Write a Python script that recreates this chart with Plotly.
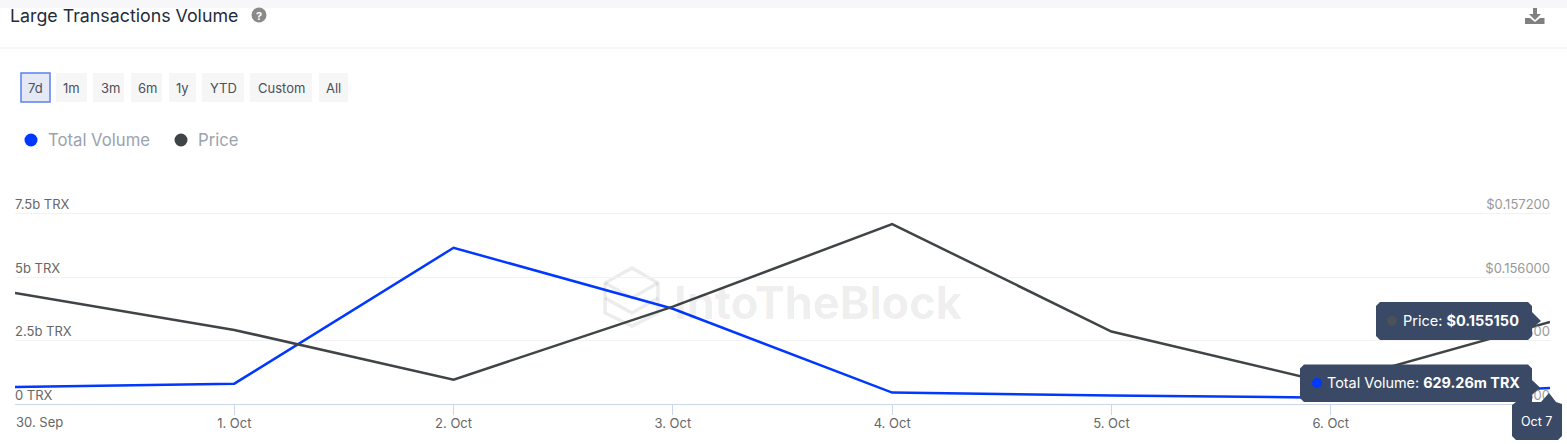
import plotly.graph_objects as go

W, H = 1567, 444
L, R, T, B = 15, 1550, 190, 404

categories = ["30. Sep", "1. Oct", "2. Oct", "3. Oct", "4. Oct", "5. Oct", "6. Oct", "7. Oct"]
x_tick_text = ["", "1. Oct", "2. Oct", "3. Oct", "4. Oct", "5. Oct", "6. Oct", ""]
volume_b = [0.67, 0.80, 6.15, 3.75, 0.45, 0.33, 0.25, 0.62926]
price = [0.15570, 0.15500, 0.15406, 0.15544, 0.15700, 0.15497, 0.15399, 0.15515]
vol_ticks = [0, 2.5, 5, 7.5]
vol_tick_text = ["0 TRX", "2.5b TRX", "5b TRX", "7.5b TRX"]
price_ticks = [0.1536, 0.1548, 0.1560, 0.1572]
price_tick_text = ["$0.153600", "$0.154800", "$0.156000", "$0.157200"]
buttons = [("7d", 21, 50, 0), ("1m", 56, 87, 0), ("3m", 93, 124, 1.5), ("6m", 131, 162, 1),
           ("1y", 169, 196, 0), ("YTD", 202, 244, 0), ("Custom", 250, 312, 0), ("All", 319, 348, 0)]

FONT = "Inter, 'Open Sans', sans-serif"
Y_TOP = 7.5 * (B - T) / 190.5
Y2_TOP = 0.1536 + 0.0036 * Y_TOP / 7.5


def px(x):
    return (x - L) / (R - L)


def py(y):
    return (B - y) / (B - T)


shapes, annotations = [], []


def rect(x0, y0, x1, y1, fill, line=None, lw=0, layer="below"):
    shapes.append(dict(type="rect", xref="paper", yref="paper", x0=px(x0), x1=px(x1), y0=py(y0), y1=py(y1),
                       fillcolor=fill, line=dict(color=line or fill, width=lw), layer=layer))


def poly(points, fill, line="rgba(0,0,0,0)", lw=0, layer="above", close=True):
    d = "M " + " L ".join(f"{px(a):.6f},{py(b):.6f}" for a, b in points) + (" Z" if close else "")
    shapes.append(dict(type="path", xref="paper", yref="paper", path=d, fillcolor=fill,
                       line=dict(color=line, width=lw), layer=layer))


def circle(cx, cy, r, fill, layer="above"):
    shapes.append(dict(type="circle", xref="paper", yref="paper", x0=px(cx - r), x1=px(cx + r),
                       y0=py(cy + r), y1=py(cy - r), fillcolor=fill, line=dict(width=0), layer=layer))


def text(s, x, y, size, color, anchor="left"):
    annotations.append(dict(text=s, xref="paper", yref="paper", x=px(x), y=py(y), xanchor=anchor, yanchor="middle",
                            showarrow=False, font=dict(family=FONT, size=size, color=color),
                            borderpad=0, borderwidth=0))


# page furniture
rect(0, 0, W, 8, "#f7f7fa")
rect(0, 47.5, W, 48.5, "#eeeeee")
text("Large Transactions Volume", 10, 15.5, 17.8, "#1f2d3d")
circle(259, 15, 7.5, "#8a8a8a")
text("<b>?</b>", 259, 15.5, 11, "#ffffff", "center")

# download icon
poly([(1533, 8), (1537, 8), (1537, 14), (1541, 14), (1535, 20), (1529, 14), (1533, 14)], "#808080")
poly([(1525, 18), (1530, 18), (1535, 22), (1540, 18), (1544.5, 18), (1544.5, 24), (1525, 24)], "#808080")

# range buttons
for i, (name, x0, x1, off) in enumerate(buttons):
    if i == 0:
        rect(x0, 73, x1, 102, "#e4e9f5", "#5b80ee", 1.5)
    else:
        rect(x0, 73, x1, 102, "#f6f6f7")
    text(name, (x0 + x1) / 2 + off, 88, 13, "#4a5059", "center")

# legend
circle(31, 140, 6.5, "#0038ff")
text("Total Volume", 48, 139.5, 16.7, "#9aa3af")
circle(181, 140, 6.5, "#3f4447")
text("Price", 198, 139.5, 16.7, "#9aa3af")

# watermark
WM = "rgba(0,0,0,0.075)"
text("<b>IntoTheBlock</b>", 674, 302, 45, WM)
hexa = [(632, 268), (658, 283), (658, 313), (632, 326), (605, 313), (605, 283)]
poly(hexa, "rgba(0,0,0,0)", WM, 3.5, "below")
poly([(605, 283), (632, 298), (658, 283)], "rgba(0,0,0,0)", WM, 3.5, "below", close=False)
poly([(605, 298), (632, 313), (658, 298)], "rgba(0,0,0,0)", WM, 3.5, "below", close=False)

# first x label
annotations.append(dict(text="30. Sep", xref="paper", yref="paper", x=0, y=py(421.5), xanchor="left", yanchor="middle",
                        showarrow=False, font=dict(family=FONT, size=13, color="#666666"), borderpad=0))

# tooltips
TIP = "#3a4a66"
poly([(1380, 302), (1528, 302), (1532, 306), (1532, 312), (1541, 321), (1532, 328), (1532, 336), (1528, 340),
      (1380, 340), (1376, 336), (1376, 306)], TIP)
circle(1392, 321, 5, "#4b5158")
text("Price: <b>$0.155150</b>", 1403, 320.5, 14.5, "#ffffff")

poly([(1304, 364.5), (1528, 364.5), (1532, 368.5), (1532, 380), (1540, 387.5), (1532, 395), (1532, 402), (1304, 402),
      (1300, 398), (1300, 368.5)], TIP)
circle(1317, 383, 5, "#0038ff")
text("Total Volume: <b>629.26m TRX</b>", 1327, 382.5, 14.4, "#ffffff")

poly([(1516, 402), (1541, 402), (1549, 393), (1556, 402), (1562, 404), (1562, 436), (1558, 440), (1516, 440),
      (1512, 436), (1512, 405)], TIP)
text("Oct 7", 1536, 421, 12.5, "#ffffff", "center")

fig = go.Figure()
fig.add_trace(go.Scatter(x=categories, y=volume_b, mode="lines", name="Total Volume", yaxis="y",
                         line=dict(color="#0038ff", width=2.5), cliponaxis=False, hoverinfo="skip"))
fig.add_trace(go.Scatter(x=categories, y=price, mode="lines", name="Price", yaxis="y2",
                         line=dict(color="#3f4447", width=2.5), cliponaxis=False, hoverinfo="skip"))

fig.update_layout(
    width=W, height=H, autosize=False, showlegend=False,
    margin=dict(l=L, r=W - R, t=T, b=H - B, pad=0),
    paper_bgcolor="#ffffff", plot_bgcolor="#ffffff",
    font=dict(family=FONT),
    shapes=shapes, annotations=annotations,
    xaxis=dict(type="category", categoryorder="array", categoryarray=categories, range=[0, 7],
               tickmode="array", tickvals=categories, ticktext=x_tick_text,
               showgrid=False, zeroline=False, showline=True, linecolor="#ccd6eb", linewidth=1,
               ticks="outside", ticklen=10, tickcolor="#ccd6eb", tickwidth=1, ticklabelstandoff=-3,
               tickfont=dict(family=FONT, size=13, color="#666666")),
    yaxis=dict(range=[0, Y_TOP], tickmode="array", tickvals=vol_ticks, ticktext=vol_tick_text,
               ticklabelposition="inside", ticklabelshift=-9, ticklabelstandoff=-3, ticks="",
               showgrid=True, gridcolor="#f2f2f2", gridwidth=1, zeroline=False, showline=False,
               tickfont=dict(family=FONT, size=13, color="#666666")),
    yaxis2=dict(range=[0.1536, Y2_TOP], overlaying="y", side="right", tickmode="array", tickvals=price_ticks,
                ticktext=price_tick_text, ticklabelposition="inside", ticklabelshift=-9, ticklabelstandoff=-3,
                ticks="", showgrid=False, zeroline=False, showline=False,
                tickfont=dict(family=FONT, size=13, color="#999999")),
)

fig.write_html("out.html", config=dict(displayModeBar=False),
               post_script="document.body.style.margin='0';document.documentElement.style.overflow='hidden';")
